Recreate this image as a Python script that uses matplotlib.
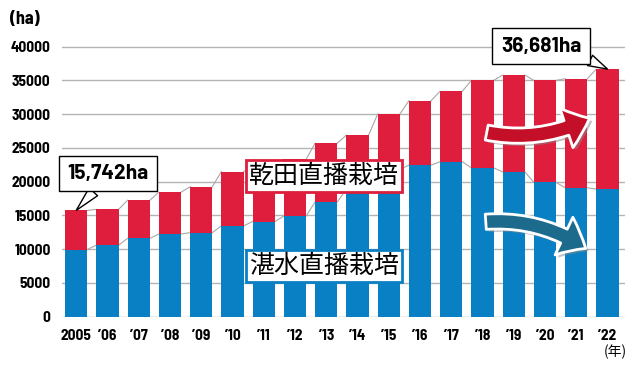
import matplotlib
matplotlib.use('Agg')
import matplotlib.pyplot as plt
import matplotlib.patheffects as pe
from matplotlib.patches import FancyArrowPatch
import numpy as np

# direct seeding area of rice (ha)
years = ['2005', '’06', '’07', '’08', '’09', '’10', '’11', '’12', '’13',
         '’14', '’15', '’16', '’17', '’18', '’19', '’20', '’21', '’22']
wet = [9950, 10600, 11600, 12250, 12450, 13450, 14100, 14900, 17000,
       18900, 21800, 22450, 22950, 22050, 21450, 19900, 19100, 18900]   # 湛水直播栽培
dry = [5792, 5300, 5650, 6200, 6800, 8050, 8200, 8400, 8700,
       8000, 8200, 9550, 10450, 12950, 14350, 15100, 16150, 17781]       # 乾田直播栽培
yticks = [0, 5000, 10000, 15000, 20000, 25000, 30000, 35000, 40000]

RED = '#DE1E3C'
BLUE = '#0A80C4'
NUM = ['Barlow Semi Condensed', 'DejaVu Sans']
JP = ['Noto Sans CJK JP', 'DejaVu Sans']

wet = np.array(wet)
dry = np.array(dry)
total = wet + dry
x = np.arange(len(years))
w = 0.71

W, H = 640, 367
fig = plt.figure(figsize=(W / 100, H / 100), dpi=100)
ax = fig.add_axes([61.7 / W, (H - 316.7) / H, (625 - 61.7) / W, (316.7 - 43.3) / H])

ax.bar(x, wet, width=w, color=BLUE, zorder=2)
ax.bar(x, dry, width=w, bottom=wet, color=RED, zorder=2)

# thin grey lines joining the bar tops
for tops in (total, wet):
    for i in range(len(x) - 1):
        ax.plot([x[i] + w / 2, x[i + 1] - w / 2], [tops[i], tops[i + 1]],
                color='#a8a8a8', lw=0.8, zorder=1.5)

ax.set_xlim(-0.464, 17.56)
ax.set_ylim(0, 40500)
ax.set_yticks(yticks)
ax.set_xticks(x)
ax.set_xticklabels(years)
for s in ax.spines.values():
    s.set_visible(False)
ax.yaxis.grid(True, color='#b4b4b4', lw=1)
ax.set_axisbelow(True)
ax.tick_params(axis='y', length=0, pad=8)
ax.tick_params(axis='x', length=0, pad=9)
for lab in ax.get_xticklabels() + ax.get_yticklabels():
    lab.set_family(NUM)
    lab.set_fontweight('bold')
    lab.set_fontsize(11)

fig.text(10 / W, 1 - 20 / H, '(ha)', family=NUM, fontweight='bold',
         fontsize=13, ha='left', va='center')
fig.text(615 / W, 1 - 352 / H, '(年)', family=JP, fontsize=10,
         ha='center', va='center')

# category labels
fig.text(324 / W, 1 - 176 / H, '乾田直播栽培', family=JP, fontsize=18,
         ha='center', va='center', zorder=5,
         bbox=dict(boxstyle='square,pad=0.12', fc='white', ec=RED, lw=2))
fig.text(324 / W, 1 - 266 / H, '湛水直播栽培', family=JP, fontsize=18,
         ha='center', va='center', zorder=5,
         bbox=dict(boxstyle='square,pad=0.12', fc='white', ec=BLUE, lw=2))

# callouts for first and last totals
def callout(i, label, cx, cy, relpos):
    ax.annotate(label, xy=(x[i], total[i]), xycoords='data',
                xytext=(cx, H - cy), textcoords='figure pixels',
                family=['Barlow', 'DejaVu Sans'], fontweight='bold',
                fontsize=15, ha='center', va='center', zorder=6,
                annotation_clip=False,
                bbox=dict(boxstyle='square,pad=0.4', fc='white', ec='black', lw=1),
                arrowprops=dict(arrowstyle='wedge,tail_width=0.55,shrink_factor=0.5',
                                fc='white', ec='black', lw=1, relpos=relpos,
                                shrinkA=0, shrinkB=0))

callout(0, f'{total[0]:,}ha', 108, 173.5, (0.42, 0.0))
callout(len(x) - 1, f'{total[-1]:,}ha', 541, 46.3, (0.97, 0.05))

# trend arrows
def px(px_x, px_y):
    return (px_x / 100, (H - px_y) / 100)

shadow = [pe.SimplePatchShadow(offset=(2, -2), shadow_rgbFace='#888888', alpha=0.5),
          pe.Normal()]
for tail, tip, rad, col in [((484, 132), (592, 117), 0.18, '#C40F28'),
                            ((483, 222), (588, 250), -0.18, '#1D6B8C')]:
    arr = FancyArrowPatch(px(*tail), px(*tip), transform=fig.dpi_scale_trans,
                          arrowstyle='simple,head_length=18,head_width=30,tail_width=11',
                          connectionstyle=f'arc3,rad={rad}',
                          fc=col, ec='white', lw=2, zorder=7)
    arr.set_path_effects(shadow)
    fig.add_artist(arr)

fig.savefig('out.png', dpi=100)
